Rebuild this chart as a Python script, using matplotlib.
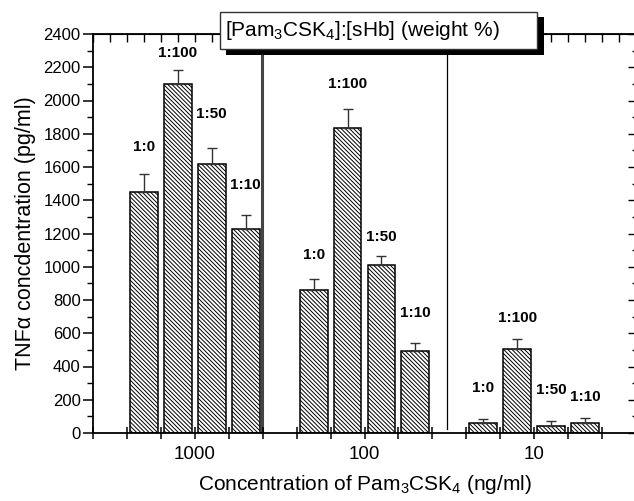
import numpy as np
import matplotlib.pyplot as plt
from matplotlib.patches import Rectangle

plt.rcParams['font.family'] = ['Liberation Sans', 'DejaVu Sans']
plt.rcParams['mathtext.fontset'] = 'custom'
plt.rcParams['mathtext.rm'] = 'Liberation Sans'
plt.rcParams['mathtext.it'] = 'Liberation Sans:italic'
plt.rcParams['hatch.linewidth'] = 0.7
plt.rcParams['hatch.color'] = '#3a3a3a'

# data
groups = ['1000', '100', '10']
ratios = ['1:0', '1:100', '1:50', '1:10']
tnf = [
    [1450, 2100, 1620, 1225],
    [860, 1835, 1010, 495],
    [58, 505, 45, 62],
]
tnf_err = [
    [107, 85, 95, 85],
    [65, 115, 56, 45],
    [24, 58, 25, 30],
]
# gap (pixels) between error bar top and centre of the ratio label
label_pad = [
    [27, 17, 34, 30],
    [24, 25, 19, 30],
    [31, 21, 31, 21],
]

group_start = [1.5, 6.5, 11.5]
group_center = [3, 8, 13]
bar_w = 0.82

fig = plt.figure(figsize=(6.34, 5.01), dpi=100)
ax = fig.add_axes([93 / 634, 68 / 501, 543 / 634, 399 / 501])

for g in range(len(groups)):
    xs = group_start[g] + np.arange(len(ratios))
    ax.bar(xs, tnf[g], width=bar_w, color='white', edgecolor='black',
           linewidth=1.1, hatch='\\' * 8, zorder=2)
    ax.errorbar(xs, tnf[g], yerr=[np.zeros(len(ratios)), tnf_err[g]], fmt='none',
                ecolor='#333333', elinewidth=1.0, capsize=3.5, capthick=1.0, zorder=3)
    for i, r in enumerate(ratios):
        ax.annotate(r, (xs[i], tnf[g][i] + tnf_err[g][i]), xytext=(0, label_pad[g][i]),
                    textcoords='offset pixels', ha='center', va='center',
                    fontsize=11, fontweight='bold')

# separators between the concentration groups
ax.axvline(4.97, color='#444444', linewidth=2.2, zorder=1)
ax.plot([10.43, 10.43], [25, 2400], color='black', linewidth=0.9, zorder=1)

ax.set_xlim(0, 16)
ax.set_ylim(0, 2400)
ax.set_xticks(np.arange(0, 17))
ax.set_xticklabels(['' if i not in group_center else groups[group_center.index(i)]
                    for i in range(17)], fontsize=13.5)
ax.tick_params(axis='x', direction='inout', length=9, width=1.1, pad=5)
ax.set_yticks(np.arange(0, 2401, 200))
ax.set_yticks(np.arange(0, 2401, 100), minor=True)
ax.tick_params(axis='y', which='major', direction='out', length=7, width=1.1,
               labelsize=12, pad=2)
ax.tick_params(axis='y', which='minor', direction='out', length=4, width=1.0)

top = ax.secondary_xaxis('top')
top.set_xticks(np.arange(0, 16.01, 0.5))
top.set_xticklabels([])
top.tick_params(direction='in', length=6, width=1.0)
right = ax.secondary_yaxis('right')
right.set_yticks(np.arange(0, 2401, 200))
right.set_yticks(np.arange(0, 2401, 100), minor=True)
right.set_yticklabels([])
right.tick_params(which='major', direction='in', length=6, width=1.0)
right.tick_params(which='minor', direction='in', length=3, width=1.0)

for sp in ax.spines.values():
    sp.set_linewidth(1.3)

ax.set_ylabel('TNFα concdentration (pg/ml)', fontsize=15.5, labelpad=5)
ax.set_xlabel('Concentration of Pam$_3$CSK$_4$ (ng/ml)', fontsize=15, labelpad=7)

# title box with drop shadow
fig.patches.append(Rectangle((226 / 634, (501 - 55) / 501), 318 / 634, 38 / 501,
                             transform=fig.transFigure, facecolor='black',
                             edgecolor='none', zorder=5))
fig.patches.append(Rectangle((220 / 634, (501 - 49) / 501), 317 / 634, 37 / 501,
                             transform=fig.transFigure, facecolor='white',
                             edgecolor='#333333', linewidth=1.0, zorder=6))
fig.text(225 / 634, (501 - 31) / 501, '[Pam$_3$CSK$_4$]:[sHb] (weight %)',
         ha='left', va='center', fontsize=15, zorder=7)

fig.savefig('out.png', dpi=100)
